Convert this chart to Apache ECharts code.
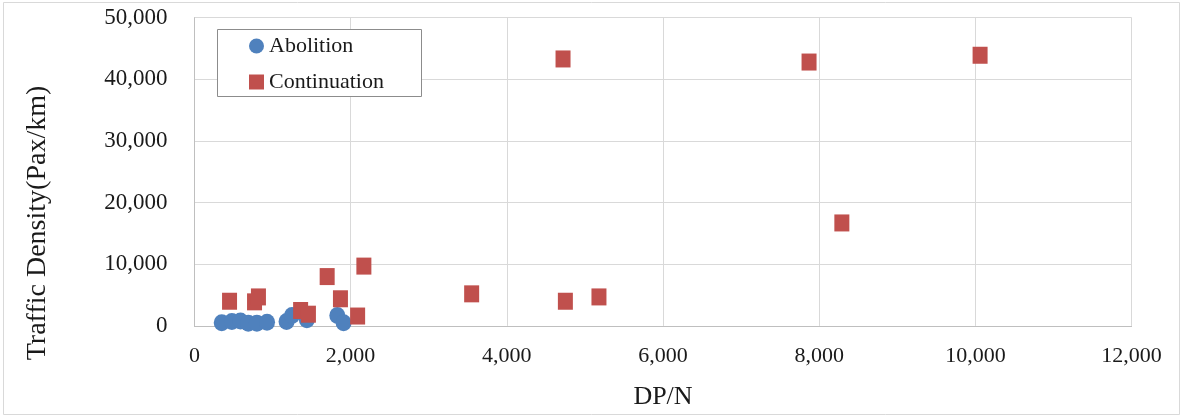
<!DOCTYPE html>
<html>
<head>
<meta charset="utf-8">
<script src="https://cdn.jsdelivr.net/npm/echarts@6/dist/echarts.min.js"></script>
<style>
html,body{margin:0;padding:0;background:#fff;}
#main{width:1184px;height:420px;}
</style>
</head>
<body>
<div id="main"></div>
<script>
// Data
const seriesNames = ['Abolition', 'Continuation'];
const abolitionX = [350, 480, 590, 690, 800, 930, 1180, 1250, 1440, 1830, 1910];
const abolitionY = [500, 700, 800, 450, 450, 600, 700, 1700, 1000, 1700, 500];
const continuationX = [450, 770, 820, 1360, 1460, 1700, 1870, 2090, 2170, 3550, 4720, 4750, 5180, 7870, 8290, 10060];
const continuationY = [4000, 3900, 4700, 2500, 1900, 8000, 4400, 1600, 9700, 5200, 43300, 4000, 4700, 42800, 16700, 43900];
const xTicks = { min: 0, max: 12000, interval: 2000 };
const yTicks = { min: 0, max: 50000, interval: 10000 };
const xTitle = 'DP/N';
const yTitle = 'Traffic Density(Pax/km)';

const zip = (xs, ys) => xs.map((x, i) => [x, ys[i]]);
const fmt = v => v.toLocaleString('en-US');
const FONT = '"Liberation Serif", "DejaVu Serif", serif';
const TXT = '#1a1a1a';

const chart = echarts.init(document.getElementById('main'), null, { renderer: 'canvas' });
chart.setOption({
  animation: false,
  backgroundColor: '#fff',
  grid: { left: 194.4, right: 52.4, top: 17.65, bottom: 94.1, containLabel: false },
  xAxis: {
    type: 'value', min: xTicks.min, max: xTicks.max, interval: xTicks.interval,
    axisLine: { show: true, lineStyle: { color: '#bfbfbf', width: 1 } },
    axisTick: { show: false },
    splitLine: { show: true, lineStyle: { color: '#d9d9d9', width: 1 } },
    axisLabel: { formatter: fmt, margin: 19, fontFamily: FONT, fontSize: 22, color: TXT }
  },
  yAxis: {
    type: 'value', min: yTicks.min, max: yTicks.max, interval: yTicks.interval,
    axisLine: { show: true, lineStyle: { color: '#bfbfbf', width: 1 } },
    axisTick: { show: false },
    splitLine: { show: true, lineStyle: { color: '#d9d9d9', width: 1 } },
    axisLabel: { formatter: fmt, margin: 27, fontFamily: FONT, fontSize: 23, color: TXT, padding: [3, 0, 0, 0] }
  },
  legend: {
    orient: 'vertical', left: 244, top: 30, z: 50,
    itemWidth: 15, itemHeight: 15, itemGap: 14,
    textStyle: { fontFamily: FONT, fontSize: 22, color: TXT, lineHeight: 22 },
    data: [
      { name: seriesNames[0], icon: 'circle' },
      { name: seriesNames[1], icon: 'rect' }
    ]
  },
  graphic: [
    { type: 'rect', shape: { x: 3.5, y: 2.5, width: 1176, height: 412 }, style: { fill: 'none', stroke: '#d9d9d9', lineWidth: 1 }, silent: true, z: -10 },
    { type: 'rect', shape: { x: 217.5, y: 29.5, width: 204, height: 67 }, style: { fill: '#fff', stroke: '#8c8c8c', lineWidth: 1 }, silent: true, z: 1 },
    { type: 'text', x: 663, y: 397, style: { text: xTitle, font: '26px ' + FONT, fill: TXT, align: 'center', verticalAlign: 'middle' }, silent: true },
    { type: 'text', x: 38, y: 223, rotation: Math.PI / 2, style: { text: yTitle, font: '28px ' + FONT, fill: TXT, align: 'center', verticalAlign: 'middle' }, silent: true }
  ],
  series: [
    { name: seriesNames[0], type: 'scatter', symbol: 'circle', symbolSize: [16, 17],
      itemStyle: { color: '#4f81bd', opacity: 1 }, data: zip(abolitionX, abolitionY), z: 2 },
    { name: seriesNames[1], type: 'scatter', symbol: 'rect', symbolSize: [15, 17],
      itemStyle: { color: '#c0504d', opacity: 1 }, data: zip(continuationX, continuationY), z: 3 }
  ]
});
</script>
</body>
</html>
